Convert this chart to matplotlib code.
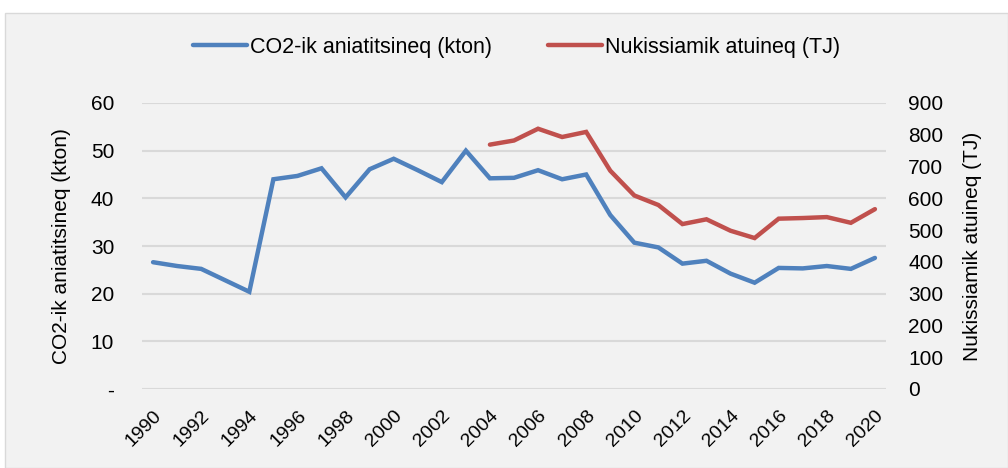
import numpy as np
import matplotlib.pyplot as plt
import matplotlib.transforms as mtransforms
from matplotlib.patches import Rectangle

plt.rcParams['font.family'] = ['Liberation Sans', 'DejaVu Sans']

years = list(range(1990, 2021))
co2 = [26.6, 25.8, 25.2, 22.8, 20.4, 44.0, 44.7, 46.3, 40.2, 46.1,
       48.3, 45.9, 43.4, 50.0, 44.2, 44.3, 45.9, 44.0, 45.0, 36.5,
       30.7, 29.7, 26.3, 26.9, 24.2, 22.3, 25.4, 25.3, 25.8, 25.2, 27.5]
energy_years = list(range(2004, 2021))
energy = [769, 782, 819, 793, 809, 687, 609, 579, 519, 534,
          498, 475, 536, 538, 541, 523, 566]

blue = "#4f81bd"
red = "#c0504d"
bg = "#f2f2f2"

fig = plt.figure(figsize=(10.08, 4.68), dpi=100)
fig.patch.set_facecolor("white")
fig.patches.append(Rectangle((5 / 1008, 0), 1003 / 1008, 455 / 468, transform=fig.transFigure,
                             facecolor=bg, edgecolor="#d9d9d9", lw=1, zorder=-1))

ax = fig.add_axes([142 / 1008, 1 - 389 / 468, (886 - 142) / 1008, (389 - 103) / 468])
ax.set_facecolor(bg)
ax2 = ax.twinx()

l1, = ax.plot(years, co2, color=blue, lw=3.2, solid_capstyle="round", solid_joinstyle="miter")
l2, = ax2.plot(energy_years, energy, color=red, lw=3.2, solid_capstyle="round", solid_joinstyle="miter")

ax.set_xlim(1989.54, 2020.46)
ax.set_ylim(0, 60)
ax2.set_ylim(0, 900)
ax.set_yticks(range(0, 61, 10))
ax.set_yticklabels(["-"] + [str(v) for v in range(10, 61, 10)])
ax2.set_yticks(range(0, 901, 100))
ax.set_xticks(range(1990, 2021, 2))
ax.set_xticklabels([str(y) for y in range(1990, 2021, 2)], rotation=45, ha="right",
                   va="top", rotation_mode="anchor", fontsize=14)
offset = mtransforms.ScaledTranslation(-11 / 100, 0, fig.dpi_scale_trans)
for lab in ax.get_xticklabels():
    lab.set_transform(lab.get_transform() + offset)

ax.grid(axis="y", color="#d9d9d9", lw=1.5)
ax.set_axisbelow(True)
for a in (ax, ax2):
    for s in a.spines.values():
        s.set_visible(False)
    a.tick_params(axis="y", length=0, labelsize=15)
ax.tick_params(axis="x", length=0, pad=13)
ax.tick_params(axis="y", pad=20)
ax2.tick_params(axis="y", pad=16)

ax.set_ylabel("CO2-ik aniatitsineq (kton)", fontsize=15, labelpad=14)
ax2.set_ylabel("Nukissiamik atuineq (TJ)", fontsize=15, labelpad=14)

fig.legend([l1, l2], ["CO2-ik aniatitsineq (kton)", "Nukissiamik atuineq (TJ)"],
           loc="center", bbox_to_anchor=(517 / 1008, 1 - 47 / 468), ncol=2, frameon=False,
           fontsize=15.5, handlelength=2.5, handletextpad=0.15, columnspacing=2.6)

fig.savefig("out.png", dpi=100, facecolor="white")
